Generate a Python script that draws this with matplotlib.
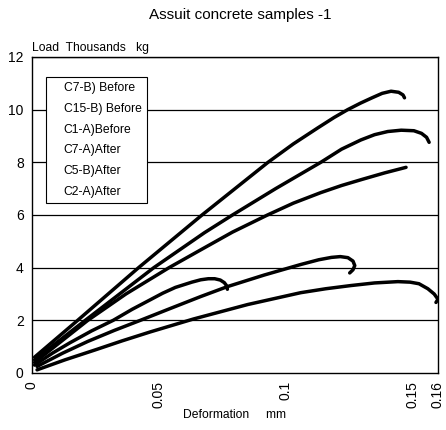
import matplotlib
matplotlib.use("Agg")
import matplotlib.pyplot as plt
from matplotlib.lines import Line2D

plt.rcParams['font.family'] = ['Liberation Sans', 'DejaVu Sans']

title = "Assuit concrete samples -1"
ylabel = "Load  Thousands   kg"
xlabel = "Deformation     mm"

labels = ["C7-B) Before", "C15-B) Before", "C1-A)Before", "C7-A)After", "C5-B)After", "C2-A)After"]

x_c7b = [0.001, 0.018, 0.042, 0.067, 0.093, 0.103, 0.1125, 0.119, 0.1244, 0.1295,
         0.134, 0.138, 0.1415, 0.1445, 0.1462, 0.1468]
y_c7b = [0.6, 2.0, 4.0, 6.0, 8.0, 8.7, 9.3, 9.7, 10.0, 10.25,
         10.45, 10.62, 10.7, 10.66, 10.56, 10.45]

x_c15b = [0.001, 0.021, 0.048, 0.068, 0.079, 0.096, 0.1138, 0.122, 0.1296, 0.135,
          0.1402, 0.1455, 0.1505, 0.1535, 0.1555, 0.1565]
y_c15b = [0.5, 2.0, 4.0, 5.33, 6.0, 7.0, 8.0, 8.5, 8.85, 9.05,
          9.17, 9.22, 9.2, 9.1, 8.95, 8.76]

x_c1a = [0.001, 0.022, 0.037, 0.054, 0.066, 0.079, 0.0928, 0.103, 0.1138, 0.122,
         0.130, 0.139, 0.1474]
y_c1a = [0.4, 2.0, 3.0, 4.0, 4.65, 5.35, 6.0, 6.45, 6.85, 7.12,
         7.35, 7.6, 7.81]

x_c7a = [0.002, 0.012, 0.022, 0.0325, 0.0427, 0.0545, 0.0664, 0.077, 0.0915, 0.1059,
         0.113, 0.118, 0.1215, 0.1245, 0.1265, 0.1272, 0.1265, 0.1252]
y_c7a = [0.25, 0.75, 1.2, 1.62, 2.0, 2.45, 2.9, 3.28, 3.72, 4.12,
         4.3, 4.39, 4.42, 4.38, 4.25, 4.08, 3.92, 3.8]

x_c5b = [0.001, 0.008, 0.015, 0.0235, 0.032, 0.0395, 0.0466, 0.0515, 0.0565, 0.063,
         0.0665, 0.0695, 0.072, 0.0742, 0.0758, 0.0768, 0.077]
y_c5b = [0.3, 0.75, 1.15, 1.6, 2.0, 2.42, 2.78, 3.03, 3.25, 3.45,
         3.54, 3.58, 3.58, 3.53, 3.43, 3.3, 3.18]

x_c2a = [0.002, 0.013, 0.025, 0.0355, 0.0466, 0.0636, 0.085, 0.1059, 0.1158, 0.1256,
         0.135, 0.1442, 0.149, 0.1525, 0.156, 0.1585, 0.160, 0.1592]
y_c2a = [0.12, 0.5, 0.88, 1.22, 1.56, 2.05, 2.6, 3.05, 3.2, 3.32,
         3.42, 3.47, 3.45, 3.39, 3.2, 3.0, 2.8, 2.68]

xs = [x_c7b, x_c15b, x_c1a, x_c7a, x_c5b, x_c2a]
ys = [y_c7b, y_c15b, y_c1a, y_c7a, y_c5b, y_c2a]

xticks = [0, 0.05, 0.1, 0.15, 0.16]
xticklabels = ["0", "0.05", "0.1", "0.15", "0.16"]
yticks = [0, 2, 4, 6, 8, 10, 12]

fig = plt.figure(figsize=(4.46, 4.30), dpi=100)
ax = fig.add_axes([32/446, 1-373/430, (438-32)/446, (373-57)/430])

for y in yticks[1:]:
    ax.axhline(y, color='black', linewidth=0.9, zorder=1)

for x, y in zip(xs, ys):
    ax.plot(x, y, color='black', linewidth=2.5, solid_capstyle='round',
            solid_joinstyle='round', zorder=3)

ax.set_xlim(0, 0.16)
ax.set_ylim(0, 12)
ax.set_xticks(xticks)
ax.set_xticklabels(xticklabels, rotation=90, fontsize=10)
ax.set_yticks(yticks)
ax.set_yticklabels([str(v) for v in yticks], fontsize=10)
ax.tick_params(length=0, pad=6)
for s in ax.spines.values():
    s.set_color('black')
    s.set_linewidth(1.0)

handles = [Line2D([], [], color='white', linewidth=0) for _ in labels]
leg = ax.legend(handles, labels, loc='upper left', bbox_to_anchor=(0.0345, 0.937),
                fontsize=8.7, frameon=True, fancybox=False, framealpha=1,
                edgecolor='black', handlelength=0.7, handletextpad=0.3,
                labelspacing=0.72, borderpad=0.45, borderaxespad=0)
leg.get_frame().set_linewidth(0.8)
leg.set_zorder(5)

fig.text(240/446, 1-15/430, title, ha='center', va='center', fontsize=11)
fig.text(32/446, 1-48/430, ylabel, ha='left', va='center', fontsize=8.7)
fig.text(235/446, 1-415/430, xlabel, ha='center', va='center', fontsize=8.7)

fig.savefig("out.png", dpi=100)
